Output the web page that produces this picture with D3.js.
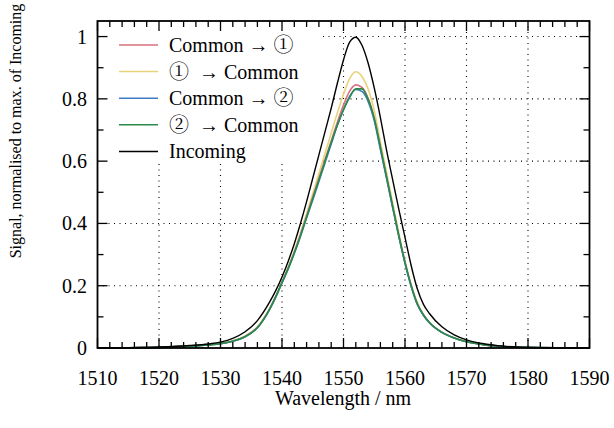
<!DOCTYPE html>
<html>
<head>
<meta charset="utf-8">
<script src="https://cdn.jsdelivr.net/npm/d3@7"></script>
<style>
  body { margin: 0; background: #fff; }
</style>
</head>
<body>
<svg id="canvas" width="614" height="428"></svg>
<script>
// data
let wavelengths = [1510,1515,1520,1525,1528,1530,1532,1534,1536,1538,1539,1540,1541,1542,1543,1544,1545,1546,1547,1548,1549,1550,1551,1552,1553,1554,1555,1556,1557,1558,1559,1560,1561,1562,1563,1564,1566,1568,1570,1573,1576,1580,1585,1590]

let commonTo1 = [0,0.001,0.002,0.006,0.010,0.014,0.022,0.037,0.066,0.126,0.166,0.211,0.256,0.307,0.364,0.424,0.485,0.545,0.605,0.665,0.725,0.780,0.825,0.845,0.837,0.802,0.737,0.643,0.548,0.452,0.360,0.274,0.200,0.142,0.106,0.081,0.050,0.032,0.020,0.010,0.005,0.002,0.0005,0]
let oneToCommon = [0,0.001,0.002,0.006,0.010,0.015,0.023,0.039,0.068,0.128,0.168,0.213,0.260,0.312,0.370,0.432,0.495,0.560,0.625,0.690,0.755,0.815,0.865,0.887,0.872,0.832,0.762,0.662,0.565,0.465,0.370,0.280,0.205,0.147,0.108,0.082,0.051,0.033,0.021,0.010,0.005,0.002,0.0005,0]
let commonTo2 = [0,0.001,0.002,0.006,0.010,0.014,0.022,0.036,0.065,0.124,0.164,0.209,0.254,0.304,0.359,0.418,0.475,0.535,0.595,0.655,0.715,0.765,0.808,0.830,0.824,0.792,0.730,0.637,0.545,0.450,0.358,0.272,0.198,0.140,0.105,0.080,0.050,0.032,0.020,0.010,0.005,0.002,0.0005,0]
let twoToCommon = [0,0.001,0.002,0.006,0.010,0.014,0.022,0.036,0.065,0.125,0.165,0.210,0.255,0.305,0.360,0.420,0.480,0.540,0.600,0.660,0.715,0.765,0.805,0.832,0.832,0.799,0.737,0.646,0.550,0.455,0.360,0.275,0.200,0.142,0.106,0.081,0.050,0.032,0.020,0.010,0.005,0.002,0.0005,0]
let incoming = [0,0.001,0.003,0.008,0.013,0.019,0.031,0.052,0.088,0.148,0.185,0.228,0.278,0.335,0.400,0.470,0.545,0.620,0.695,0.770,0.850,0.925,0.982,0.998,0.972,0.915,0.835,0.740,0.635,0.540,0.445,0.355,0.265,0.190,0.140,0.110,0.068,0.042,0.026,0.013,0.006,0.002,0.0005,0]

let seriesNames = [['Common \u2192 ', '\u2460', ''], ['', '\u2460', '  \u2192 Common'], ['Common \u2192 ', '\u2461', ''], ['', '\u2461', '  \u2192 Common'], ['Incoming', '', '']]
let seriesValues = [commonTo1, oneToCommon, commonTo2, twoToCommon, incoming]
let seriesColors = ['#d9707c', '#e8d27a', '#3d7cc4', '#2a8a48', '#000000']

let xTicks = [1510,1520,1530,1540,1550,1560,1570,1580,1590]
let yTicks = [0,0.2,0.4,0.6,0.8,1]

let serif = '"Liberation Serif"'
let circled = '"Noto Serif CJK JP"'

let svg = d3.select('#canvas')
let pLeft = 97.5, pRight = 589.5, pTop = 21, pBottom = 348

let x = d3.scaleLinear().domain([1510, 1590]).range([pLeft, pRight])
let y = d3.scaleLinear().domain([0, 1.05]).range([pBottom, pTop])

// serif text: drawn at 16px (which keeps the serif face) and scaled up
let label = (px, py, anchor) => svg.append('text')
    .attr('transform', 'translate(' + px + ',' + py + ') scale(1.25)')
    .attr('text-anchor', anchor)
    .attr('font-size', 16)
    .style('font-family', serif)

// grid
let grid = svg.append('g')
grid.selectAll('.gx')
    .data(xTicks.slice(1, -1))
    .enter().append('line')
    .attr('x1', d => x(d)).attr('x2', d => x(d))
    .attr('y1', pTop).attr('y2', pBottom)
grid.selectAll('.gy')
    .data(yTicks.slice(1))
    .enter().append('line')
    .attr('x1', pLeft).attr('x2', pRight)
    .attr('y1', d => y(d)).attr('y2', d => y(d))
grid.selectAll('line')
    .attr('stroke', '#000').attr('stroke-width', 1.1)
    .attr('stroke-dasharray', '1,4.5')

// legend background hides the grid, curves go over it
svg.append('rect')
    .attr('x', pLeft + 1).attr('y', pTop + 1)
    .attr('width', 222).attr('height', 141)
    .attr('fill', '#fff')

// curves
let line = d3.line()
    .x((d, i) => x(wavelengths[i]))
    .y(d => y(d))
    .curve(d3.curveMonotoneX)

let order = [1, 0, 2, 3, 4]
order.forEach(k => {
    svg.append('path')
        .attr('d', line(seriesValues[k]))
        .attr('fill', 'none')
        .attr('stroke', seriesColors[k])
        .attr('stroke-width', k === 4 ? 1.4 : 1.6)
})

// legend
seriesNames.forEach((parts, i) => {
    let ly = 45 + i * 26.6
    svg.append('line')
        .attr('x1', 119).attr('x2', 158)
        .attr('y1', ly).attr('y2', ly)
        .attr('stroke', seriesColors[i]).attr('stroke-width', 1.5)
    let t = label(169, ly + 7, 'start').style('white-space', 'pre')
    t.append('tspan').style('font-family', serif).text(parts[0])
    t.append('tspan').style('font-family', circled).text(parts[1])
    t.append('tspan').style('font-family', serif).text(parts[2])
})

// axes with inside ticks on all four sides
let minorX = d3.range(1512, 1590, 2).filter(d => d % 10 !== 0)
let minorY = d3.range(1, 10, 2).map(d => d / 10)
let ticks = svg.append('g').attr('stroke', '#000').attr('stroke-width', 1.3)
xTicks.concat(minorX).forEach(t => {
    let len = xTicks.includes(t) ? 10 : 6
    ticks.append('line').attr('x1', x(t)).attr('x2', x(t)).attr('y1', pBottom).attr('y2', pBottom - len)
    ticks.append('line').attr('x1', x(t)).attr('x2', x(t)).attr('y1', pTop).attr('y2', pTop + len)
})
yTicks.concat(minorY).forEach(t => {
    let len = yTicks.includes(t) ? 10 : 6
    ticks.append('line').attr('x1', pLeft).attr('x2', pLeft + len).attr('y1', y(t)).attr('y2', y(t))
    ticks.append('line').attr('x1', pRight).attr('x2', pRight - len).attr('y1', y(t)).attr('y2', y(t))
})

svg.append('rect')
    .attr('x', pLeft).attr('y', pTop)
    .attr('width', pRight - pLeft).attr('height', pBottom - pTop)
    .attr('fill', 'none').attr('stroke', '#000').attr('stroke-width', 1.8)

// tick labels
xTicks.forEach(d => label(x(d), 385, 'middle').text(d))
yTicks.forEach(d => label(87, y(d) + 7, 'end').text(d3.format('~g')(d)))

// axis titles
label(343, 405, 'middle').text('Wavelength / nm')
svg.append('text')
    .attr('transform', 'translate(21,131) rotate(-90)')
    .attr('text-anchor', 'middle')
    .attr('font-size', 16)
    .style('font-family', serif)
    .text('Signal, normalised to max. of Incoming')
</script>
</body>
</html>
